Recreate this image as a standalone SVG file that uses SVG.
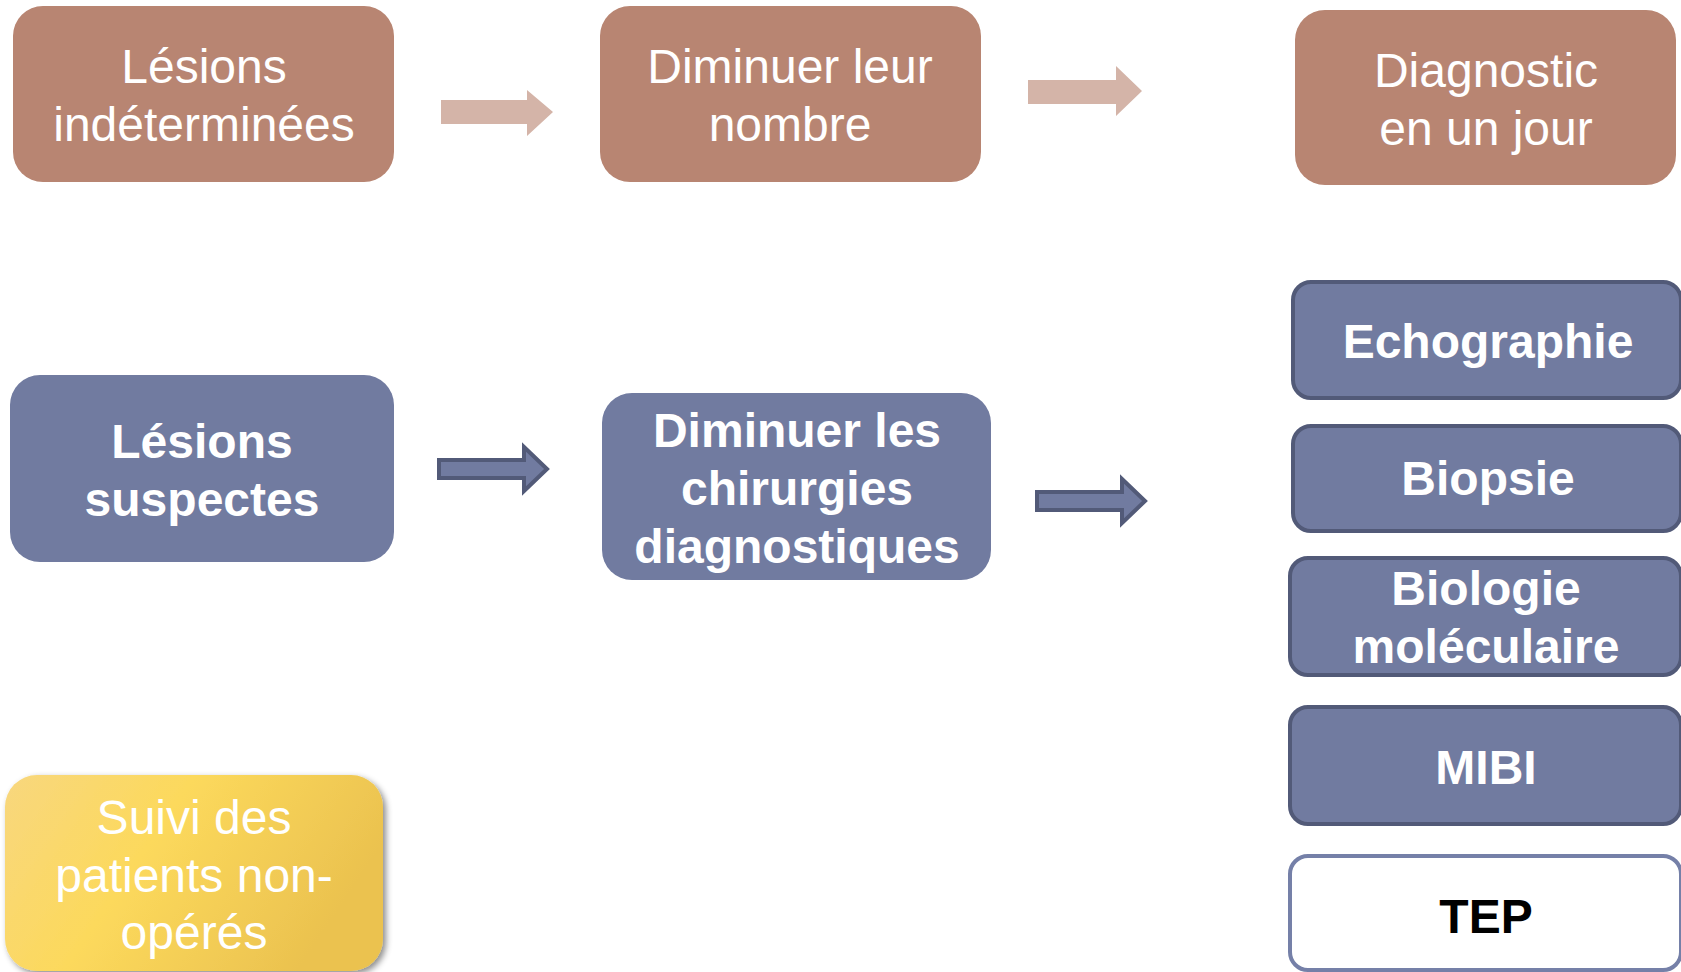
<svg xmlns="http://www.w3.org/2000/svg" width="1681" height="972" viewBox="0 0 1681 972">
<defs>
<style>
text{font-family:"Liberation Sans",Arial,sans-serif;font-size:48px;text-anchor:middle;fill:#fff}
.b{font-weight:bold}
.brown{fill:#b88572}
.blue{fill:#717ba0}
.blueS{fill:#717ba0;stroke:#525a78;stroke-width:4}
.tep{fill:#fff;stroke:#7580a8;stroke-width:4}
.la{fill:#d4b4a8}
.da{fill:#717ba0;stroke:#525a78;stroke-width:4;stroke-linejoin:miter}
</style>
<linearGradient id="yg" x1="0" y1="0" x2="1" y2="0.35">
<stop offset="0" stop-color="#f8d77e"/>
<stop offset="0.45" stop-color="#fcd95c"/>
<stop offset="1" stop-color="#ebc24f"/>
</linearGradient>
<filter id="sh" x="-10%" y="-10%" width="125%" height="125%">
<feDropShadow dx="3" dy="3" stdDeviation="3" flood-color="#000" flood-opacity="0.45"/>
</filter>
</defs>
<rect width="1681" height="972" fill="#fff"/>

<g id="connectors">
<polygon class="la" points="441,100 527,100 527,90 553,112 527,136 527,124 441,124"/>
<polygon class="la" points="1028,80 1116,80 1116,66 1142,91 1116,116 1116,104 1028,104"/>
<polygon class="da" points="439,460 524,460 524,447 547,469 524,491 524,478 439,478"/>
<polygon class="da" points="1037,492 1122,492 1122,479 1145,501 1122,523 1122,510 1037,510"/>
</g>

<g id="n1"><rect class="brown" x="13" y="6" width="381" height="176" rx="30"/>
<text x="204" y="83">Lésions</text><text x="204" y="141">indéterminées</text></g>
<g id="n2"><rect class="brown" x="600" y="6" width="381" height="176" rx="30"/>
<text x="790" y="83">Diminuer leur</text><text x="790" y="141">nombre</text></g>
<g id="n3"><rect class="brown" x="1295" y="10" width="381" height="175" rx="30"/>
<text x="1486" y="87">Diagnostic</text><text x="1486" y="145">en un jour</text></g>

<g id="n4"><rect class="blue" x="10" y="375" width="384" height="187" rx="30"/>
<text class="b" x="202" y="458">Lésions</text><text class="b" x="202" y="516">suspectes</text></g>
<g id="n5"><rect class="blue" x="602" y="393" width="389" height="187" rx="30"/>
<text class="b" x="797" y="447">Diminuer les</text><text class="b" x="797" y="505">chirurgies</text><text class="b" x="797" y="563">diagnostiques</text></g>

<g id="n6"><rect class="blueS" x="1293" y="282" width="388" height="116" rx="18"/>
<text class="b" x="1488" y="358">Echographie</text></g>
<g id="n7"><rect class="blueS" x="1293" y="426" width="388" height="105" rx="18"/>
<text class="b" x="1488" y="495">Biopsie</text></g>
<g id="n8"><rect class="blueS" x="1290" y="558" width="391" height="117" rx="18"/>
<text class="b" x="1486" y="605">Biologie</text><text class="b" x="1486" y="663">moléculaire</text></g>
<g id="n9"><rect class="blueS" x="1290" y="707" width="391" height="117" rx="18"/>
<text class="b" x="1486" y="784">MIBI</text></g>
<g id="n10"><rect class="tep" x="1290" y="856" width="391" height="114" rx="18"/>
<text class="b" x="1486" y="933" style="fill:#000">TEP</text></g>

<g id="n11"><rect x="5" y="775" width="378" height="196" rx="32" fill="url(#yg)" filter="url(#sh)"/>
<text x="194" y="834">Suivi des</text><text x="194" y="892">patients non-</text><text x="194" y="949">opérés</text></g>
</svg>
